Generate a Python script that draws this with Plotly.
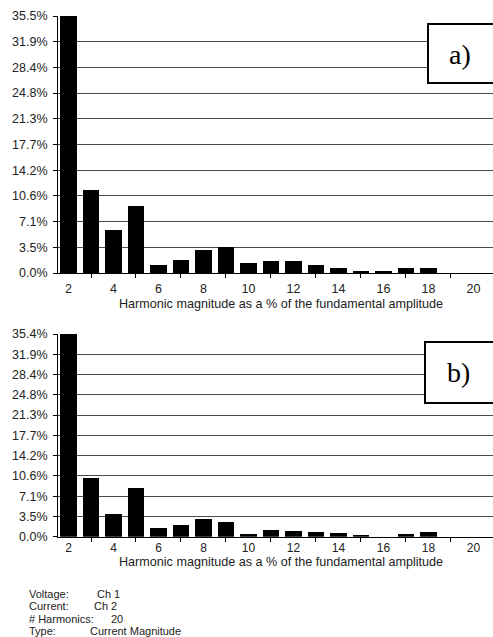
import plotly.graph_objects as go

W, H = 493, 637

harmonics = list(range(2, 21))
mag_a = [35.48, 11.5, 6.0, 9.25, 1.1, 1.8, 3.2, 3.55, 1.42, 1.66, 1.66, 1.1, 0.73, 0.32, 0.18, 0.69, 0.69, 0.0, 0.0]
mag_b = [35.44, 10.2, 3.9, 8.45, 1.57, 2.04, 3.1, 2.5, 0.52, 1.17, 0.94, 0.82, 0.59, 0.35, 0.0, 0.47, 0.77, 0.0, 0.0]

ymax_a = 35.48
ymax_b = 35.44
yticks_a = ["0.0%", "3.5%", "7.1%", "10.6%", "14.2%", "17.7%", "21.3%", "24.8%", "28.4%", "31.9%", "35.5%"]
yticks_b = ["0.0%", "3.5%", "7.1%", "10.6%", "14.2%", "17.7%", "21.3%", "24.8%", "28.4%", "31.9%", "35.4%"]
xtick_vals = list(range(2, 21, 2))
xminor_vals = list(range(3, 22, 2))
xtitle = "Harmonic magnitude as a % of the fundamental amplitude"
footer_labels = ["Voltage:", "Current:", "# Harmonics:", "Type:"]
footer_values = ["Ch 1", "Ch 2", "20", "Current Magnitude"]
panel_labels = ["a)", "b)"]

FONT = "Liberation Sans, Arial, sans-serif"
TXT = "#222222"

def px(x):
    return x / W

def py(y):
    return (H - y) / H

fig = go.Figure()
fig.add_trace(go.Bar(x=harmonics, y=mag_a, width=0.73, marker=dict(color="black", line=dict(width=0)),
                     xaxis="x", yaxis="y", showlegend=False))
fig.add_trace(go.Bar(x=harmonics, y=mag_b, width=0.73, marker=dict(color="black", line=dict(width=0)),
                     xaxis="x2", yaxis="y2", showlegend=False))

xrange = [1.533, 20.87]
xdom = [px(58), 1.0]

def xaxis_cfg(anchor, standoff, size):
    return dict(domain=xdom, range=xrange, anchor=anchor, tickvals=xtick_vals,
                ticks="", showline=True, linecolor="black", linewidth=1,
                showgrid=False, zeroline=False, automargin=False,
                tickfont=dict(family=FONT, size=size, color=TXT),
                ticklabelstandoff=standoff,
                minor=dict(tickvals=xminor_vals, ticks="outside", ticklen=4,
                           tickcolor="black", tickwidth=1, showgrid=False))

def yaxis_cfg(anchor, dom, ymax, labels):
    step = ymax / 10
    return dict(domain=dom, range=[0, ymax], anchor=anchor,
                tickvals=[i * step for i in range(11)], ticktext=labels,
                ticks="outside", ticklen=4, tickcolor="black", tickwidth=1,
                showline=True, linecolor="black", linewidth=1,
                showgrid=True, gridcolor="#4a4a4a", gridwidth=1,
                zeroline=False, automargin=False,
                tickfont=dict(family=FONT, size=12.5, color=TXT),
                ticklabelstandoff=3)

fig.update_layout(
    width=W, height=H,
    margin=dict(l=0, r=0, t=0, b=0),
    paper_bgcolor="white", plot_bgcolor="white",
    bargap=0,
    xaxis=xaxis_cfg("y", 4, 12.5),
    yaxis=yaxis_cfg("x", [py(273), py(16)], ymax_a, yticks_a),
    xaxis2=xaxis_cfg("y2", 0, 12),
    yaxis2=yaxis_cfg("x2", [py(536.7), py(334)], ymax_b, yticks_b),
)

annotations = [
    dict(text=xtitle, x=px(281), y=py(304), xref="paper", yref="paper", showarrow=False,
         xanchor="center", yanchor="middle", font=dict(family=FONT, size=12.6, color=TXT)),
    dict(text=xtitle, x=px(281), y=py(562), xref="paper", yref="paper", showarrow=False,
         xanchor="center", yanchor="middle", font=dict(family=FONT, size=12.6, color=TXT)),
]

shapes = []
boxes = [(428, 24, 83, 460, 54), (425, 342, 403, 458, 372)]
for (bx, by0, by1, tx, ty), lab in zip(boxes, panel_labels):
    shapes.append(dict(type="rect", xref="paper", yref="paper", x0=px(bx), x1=1.1,
                       y0=py(by1), y1=py(by0), line=dict(color="black", width=2),
                       fillcolor="white", layer="above"))
    annotations.append(dict(text=lab, x=px(tx), y=py(ty), xref="paper", yref="paper",
                            showarrow=False, xanchor="center", yanchor="middle",
                            font=dict(family="Liberation Serif, Times New Roman, serif", size=28, color="black")))

footer_y = [593.8, 606.2, 618.6, 631]
value_x = [96, 93, 110, 89]
for lab, val, fy, vx in zip(footer_labels, footer_values, footer_y, value_x):
    annotations.append(dict(text=lab, x=px(28), y=py(fy), xref="paper", yref="paper", showarrow=False,
                            xanchor="left", yanchor="middle", borderpad=0,
                            font=dict(family=FONT, size=11, color=TXT)))
    annotations.append(dict(text=val, x=px(vx), y=py(fy), xref="paper", yref="paper", showarrow=False,
                            xanchor="left", yanchor="middle", borderpad=0,
                            font=dict(family=FONT, size=11, color=TXT)))

fig.update_layout(annotations=annotations, shapes=shapes)
fig.write_html("out.html")
